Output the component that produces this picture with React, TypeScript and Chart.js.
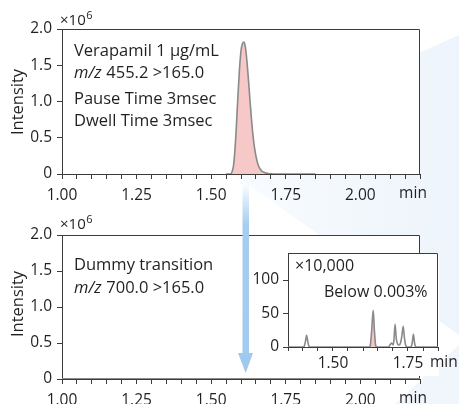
import React, { useEffect, useRef } from "react";
import { Chart, registerables } from "chart.js";
Chart.register(...registerables);

const FONT = '"Open Sans", "Noto Sans", sans-serif';
const TEXT = "#231f20";
const AXIS = "#3c3c3c";
const TRACE = "#8a8a8a";
const PINK = "#f6c8c8";

// ---------- data ----------
// Verapamil 1 ug/mL, m/z 455.2 > 165.0 (intensity x10^6)
const topTimes = [1.55, 1.565, 1.57, 1.575, 1.58, 1.585, 1.59, 1.595, 1.6, 1.605, 1.61, 1.615, 1.62, 1.625, 1.63, 1.635, 1.64, 1.645, 1.65, 1.655, 1.66, 1.665, 1.67, 1.68, 1.69, 1.7, 1.72, 1.78, 1.85];
const topIntensity = [0, 0, 0.03, 0.12, 0.35, 0.7, 1.1, 1.45, 1.7, 1.8, 1.82, 1.74, 1.55, 1.3, 1.02, 0.76, 0.54, 0.37, 0.25, 0.16, 0.1, 0.065, 0.04, 0.018, 0.008, 0.003, 0, 0, 0];

// Dummy transition, m/z 700.0 > 165.0 (intensity x10^6)
const bottomTimes = [1.0, 1.6, 2.2];
const bottomIntensity = [0, 0, 0];

// Inset (x10,000 magnified dummy transition)
const insetTimes = [1.35, 1.4, 1.404, 1.408, 1.412, 1.416, 1.42, 1.424, 1.62, 1.624, 1.629, 1.634, 1.638, 1.642, 1.646, 1.685, 1.69, 1.695, 1.7, 1.703, 1.707, 1.711, 1.716, 1.72, 1.725, 1.73, 1.734, 1.738, 1.742, 1.747, 1.76, 1.764, 1.768, 1.772, 1.776, 1.85];
const insetIntensity = [0, 0, 1, 8, 17.5, 8, 1, 0, 0, 2, 25, 55, 25, 3, 0, 0, 3, 6, 3, 10, 34, 12, 4, 3, 6, 18, 31, 14, 3, 0, 0, 6, 19, 6, 0, 0];
const insetPeakTimes = [1.62, 1.624, 1.629, 1.634, 1.638, 1.642, 1.646];
const insetPeakIntensity = [0, 2, 25, 55, 25, 3, 0];

// ticks
const mainXTicks = [1.0, 1.05, 1.1, 1.15, 1.2, 1.25, 1.3, 1.35, 1.4, 1.45, 1.5, 1.55, 1.6, 1.65, 1.7, 1.75, 1.8, 1.85, 1.9, 1.95, 2.0, 2.05, 2.1, 2.15, 2.2];
const mainXMajor = [1.0, 1.25, 1.5, 1.75, 2.0];
const mainXLabels = ["1.00", "1.25", "1.50", "1.75", "2.00"];
const mainYTicks = [0, 0.5, 1.0, 1.5, 2.0];
const mainYLabels = ["0", "0.5", "1.0", "1.5", "2.0"];
const insetXTicks = [1.35, 1.4, 1.45, 1.5, 1.55, 1.6, 1.65, 1.7, 1.75, 1.8, 1.85];
const insetXMajor = [1.5, 1.75];
const insetXLabels = ["1.50", "1.75"];
const insetYTicks = [0, 50, 100];
const insetYLabels = ["0", "50", "100"];

const topNotes = ["Verapamil 1 μg/mL", "455.2 >165.0", "Pause Time 3msec", "Dwell Time 3msec"];
const bottomNotes = ["Dummy transition", "700.0 >165.0"];
const insetNotes = ["×10,000", "Below 0.003%"];

// ---------- helpers ----------
type Part = { t: string; italic?: boolean; sup?: boolean };
type Note = { x: number; y: number; parts: Part[]; size?: number; align?: "left" | "center"; rotate?: boolean };

const lookup = (vals: number[], labels: string[]) => (v: any) => {
  const n = Number(v);
  for (let i = 0; i < vals.length; i++) if (Math.abs(vals[i] - n) < 1e-6) return labels[i];
  return "";
};

function framePlugin(notes: Note[], whiteFrom?: number) {
  return {
    id: "frame",
    beforeDraw(chart: any) {
      const { ctx, chartArea: a } = chart;
      ctx.save();
      ctx.fillStyle = "#ffffff";
      if (whiteFrom !== undefined) {
        ctx.fillRect(whiteFrom, a.top, a.right + 1 - whiteFrom, chart.height - a.top);
      } else {
        ctx.fillRect(a.left, a.top, a.right - a.left, a.bottom - a.top);
      }
      ctx.restore();
    },
    beforeDatasetsDraw(chart: any) {
      const { ctx, chartArea: a } = chart;
      const t = Math.round(a.top) + 0.5;
      const r = Math.round(a.right) - 0.5;
      const b = Math.round(a.bottom);
      const l = Math.round(a.left);
      ctx.save();
      ctx.strokeStyle = AXIS;
      ctx.lineWidth = 1;
      ctx.beginPath();
      ctx.moveTo(l, t);
      ctx.lineTo(r, t);
      ctx.lineTo(r, b);
      ctx.stroke();
      ctx.restore();
    },
    afterDraw(chart: any) {
      const ctx = chart.ctx;
      for (const n of notes) {
        ctx.save();
        const size = n.size ?? 16.5;
        ctx.fillStyle = TEXT;
        ctx.textBaseline = "alphabetic";
        const fontOf = (p: Part) => `${p.italic ? "italic " : ""}${p.sup ? Math.round(size * 0.7) : size}px ${FONT}`;
        let total = 0;
        for (const p of n.parts) {
          ctx.font = fontOf(p);
          total += ctx.measureText(p.t).width;
        }
        ctx.translate(n.x, n.y);
        if (n.rotate) ctx.rotate(-Math.PI / 2);
        let x = n.align === "center" ? -total / 2 : 0;
        for (const p of n.parts) {
          ctx.font = fontOf(p);
          ctx.fillText(p.t, x, p.sup ? -size * 0.38 : 0);
          x += ctx.measureText(p.t).width + (p.sup ? 0 : 0.5);
        }
        ctx.restore();
      }
    },
  };
}

function mainConfig(times: number[], values: number[], fillPeak: boolean, notes: Note[], padTop: number, xHeight: number) {
  return {
    type: "line",
    data: {
      datasets: [
        {
          data: times.map((t, i) => ({ x: t, y: values[i] })),
          borderColor: TRACE,
          borderWidth: fillPeak ? 1.6 : 2,
          backgroundColor: PINK,
          fill: fillPeak ? "origin" : false,
          pointRadius: 0,
          cubicInterpolationMode: "monotone",
        },
      ],
    },
    options: {
      responsive: false,
      animation: false,
      events: [],
      layout: { padding: { left: 0, top: padTop, right: 39, bottom: 0 } },
      plugins: { legend: { display: false }, tooltip: { enabled: false } },
      scales: {
        x: {
          type: "linear",
          min: 1.0,
          max: 2.2,
          afterFit: (s: any) => { s.height = xHeight; },
          afterBuildTicks: (s: any) => { s.ticks = mainXTicks.map((v) => ({ value: v })); },
          border: { display: true, color: AXIS, width: 1 },
          grid: { display: true, drawOnChartArea: false, drawTicks: true, tickLength: 5, color: AXIS, tickColor: AXIS },
          ticks: { autoSkip: false, maxRotation: 0, padding: 7, color: TEXT, font: { family: FONT, size: 15.5 }, callback: lookup(mainXMajor, mainXLabels) },
        },
        y: {
          type: "linear",
          min: 0,
          max: 2,
          afterFit: (s: any) => { s.width = 62; },
          afterBuildTicks: (s: any) => { s.ticks = mainYTicks.map((v) => ({ value: v })); },
          border: { display: true, color: AXIS, width: 1 },
          grid: { display: true, drawOnChartArea: false, drawTicks: true, tickLength: 5, color: AXIS, tickColor: AXIS },
          ticks: { autoSkip: false, padding: 5, color: TEXT, font: { family: FONT, size: 15.5 }, callback: lookup(mainYTicks, mainYLabels) },
        },
      },
    },
    plugins: [framePlugin(notes)],
  };
}

function insetConfig(notes: Note[]) {
  return {
    type: "line",
    data: {
      datasets: [
        {
          data: insetTimes.map((t, i) => ({ x: t, y: insetIntensity[i] })),
          borderColor: TRACE,
          borderWidth: 1.6,
          fill: false,
          pointRadius: 0,
          cubicInterpolationMode: "monotone",
          order: 1,
        },
        {
          data: insetPeakTimes.map((t, i) => ({ x: t, y: insetPeakIntensity[i] })),
          borderWidth: 0,
          borderColor: "rgba(0,0,0,0)",
          backgroundColor: PINK,
          fill: "origin",
          pointRadius: 0,
          cubicInterpolationMode: "monotone",
          order: 2,
        },
      ],
    },
    options: {
      responsive: false,
      animation: false,
      events: [],
      layout: { padding: { left: 0, top: 12, right: 21, bottom: 0 } },
      plugins: { legend: { display: false }, tooltip: { enabled: false } },
      scales: {
        x: {
          type: "linear",
          min: 1.35,
          max: 1.85,
          afterFit: (s: any) => { s.height = 29; },
          afterBuildTicks: (s: any) => { s.ticks = insetXTicks.map((v) => ({ value: v })); },
          border: { display: true, color: AXIS, width: 1 },
          grid: { display: true, drawOnChartArea: false, drawTicks: true, tickLength: 4, color: AXIS, tickColor: AXIS },
          ticks: { autoSkip: false, maxRotation: 0, padding: 3, color: TEXT, font: { family: FONT, size: 15.5 }, callback: lookup(insetXMajor, insetXLabels) },
        },
        y: {
          type: "linear",
          min: 0,
          max: 140,
          afterFit: (s: any) => { s.width = 42; },
          afterBuildTicks: (s: any) => { s.ticks = insetYTicks.map((v) => ({ value: v })); },
          border: { display: true, color: AXIS, width: 1 },
          grid: { display: true, drawOnChartArea: false, drawTicks: true, tickLength: 5, color: AXIS, tickColor: AXIS },
          ticks: { autoSkip: false, padding: 4, color: TEXT, font: { family: FONT, size: 15.5 }, callback: lookup(insetYTicks, insetYLabels) },
        },
      },
    },
    plugins: [framePlugin(notes, 8)],
  };
}

function ChartCanvas({ left, top, width, height, make }: { left: number; top: number; width: number; height: number; make: () => any }) {
  const ref = useRef<HTMLCanvasElement | null>(null);
  useEffect(() => {
    if (!ref.current) return;
    const chart = new Chart(ref.current, make());
    return () => chart.destroy();
  }, []);
  return <canvas ref={ref} width={width} height={height} style={{ position: "absolute", left, top, width, height }} />;
}

const sixPart: Part[] = [{ t: "×10" }, { t: "6", sup: true }];

export default function App() {
  const topNoteList: Note[] = [
    { x: 60, y: 25, size: 15, parts: sixPart },
    { x: 23, y: 102, size: 16.5, rotate: true, align: "center", parts: [{ t: "Intensity" }] },
    { x: 74, y: 55.5, parts: [{ t: topNotes[0] }] },
    { x: 74, y: 77.5, parts: [{ t: "m/z", italic: true }, { t: " " + topNotes[1] }] },
    { x: 74, y: 103.5, parts: [{ t: topNotes[2] }] },
    { x: 74, y: 126, parts: [{ t: topNotes[3] }] },
    { x: 413, y: 197.5, size: 15.5, align: "center", parts: [{ t: "min" }] },
  ];
  const bottomNoteList: Note[] = [
    { x: 60, y: 28.5, size: 15, parts: sixPart },
    { x: 23, y: 104, size: 16.5, rotate: true, align: "center", parts: [{ t: "Intensity" }] },
    { x: 74, y: 70, parts: [{ t: bottomNotes[0] }] },
    { x: 74, y: 92.7, parts: [{ t: "m/z", italic: true }, { t: " " + bottomNotes[1] }] },
    { x: 413, y: 203, size: 15.5, align: "center", parts: [{ t: "min" }] },
  ];
  const insetNoteList: Note[] = [
    { x: 49, y: 30.5, size: 16, parts: [{ t: insetNotes[0] }] },
    { x: 78, y: 56.7, size: 16, parts: [{ t: insetNotes[1] }] },
    { x: 184, y: 127, size: 15.5, parts: [{ t: "min" }] },
  ];

  return (
    <div style={{ position: "fixed", left: 0, top: 0, width: 459, height: 404, overflow: "hidden", background: "#ffffff" }}>
      <svg width={459} height={404} style={{ position: "absolute", left: 0, top: 0 }}>
        <defs>
          <linearGradient id="bgA" x1="0" y1="0" x2="1" y2="0">
            <stop offset="0" stopColor="#fbfdff" />
            <stop offset="1" stopColor="#edf4fb" />
          </linearGradient>
        </defs>
        <polygon points="200,150 459,35 459,335" fill="url(#bgA)" />
        <polygon points="395,404 459,345 459,404" fill="#f1f6fc" />
      </svg>
      <ChartCanvas left={0} top={0} width={459} height={206} make={() => mainConfig(topTimes, topIntensity, true, topNoteList, 29, 32)} />
      <ChartCanvas left={0} top={200} width={459} height={204} make={() => mainConfig(bottomTimes, bottomIntensity, false, bottomNoteList, 35, 25)} />
      <ChartCanvas left={246} top={240} width={213} height={136} make={() => insetConfig(insetNoteList)} />
      <svg width={459} height={404} style={{ position: "absolute", left: 0, top: 0, pointerEvents: "none" }}>
        <defs>
          <linearGradient id="shaft" x1="0" y1="0" x2="0" y2="1">
            <stop offset="0" stopColor="#a6cdf0" stopOpacity="0" />
            <stop offset="0.25" stopColor="#a6cdf0" stopOpacity="1" />
            <stop offset="1" stopColor="#a2cbef" stopOpacity="1" />
          </linearGradient>
        </defs>
        <rect x={242.5} y={182} width={6.5} height={172} fill="url(#shaft)" />
        <polygon points="238,353 253,353 245.7,373" fill="#9fc9ee" />
      </svg>
    </div>
  );
}
